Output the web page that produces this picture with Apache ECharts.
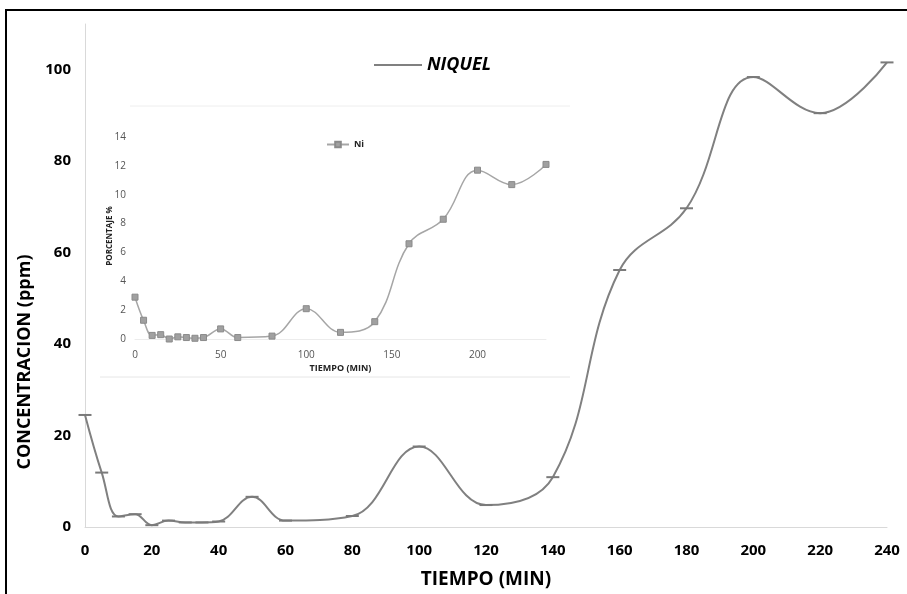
<!DOCTYPE html>
<html>
<head>
<meta charset="utf-8">
<script src="https://cdn.jsdelivr.net/npm/echarts@6/dist/echarts.min.js"></script>
<style>
html, body { margin: 0; padding: 0; background: #fff; }
#chart { width: 907px; height: 594px; }
</style>
</head>
<body>
<div id="chart"></div>
<script>
var tiempo = [0, 5, 10, 15, 20, 25, 30, 35, 40, 50, 60, 80, 100, 120, 140, 160, 180, 200, 220, 240];
var niquelPpm = [24.5, 11.9, 2.3, 2.8, 0.4, 1.4, 1.0, 1.0, 1.2, 6.6, 1.4, 2.4, 17.6, 4.8, 10.9, 56.2, 69.7, 98.4, 90.5, 101.6];
var niPorcentaje = [2.9, 1.3, 0.25, 0.3, 0, 0.15, 0.1, 0.05, 0.1, 0.7, 0.1, 0.2, 2.1, 0.46, 1.2, 6.6, 8.3, 11.7, 10.7, 12.1];

var chartDom = document.getElementById('chart');
var myChart = echarts.init(chartDom);

var mainData = tiempo.map(function (t, i) { return [t, niquelPpm[i]]; });
var insetData = tiempo.map(function (t, i) { return [t, niPorcentaje[i]]; });

var font = '"Open Sans", sans-serif';

var option = {
    backgroundColor: '#fff',
    animation: false,
    legend: [
        {
            data: [{ name: 'NIQUEL', icon: 'rect' }],
            left: 369,
            top: 51,
            itemWidth: 48,
            itemHeight: 2,
            itemGap: 6,
            itemStyle: { color: '#808080' },
            textStyle: { fontFamily: font, fontWeight: 'bold', fontStyle: 'italic', fontSize: 18, color: '#000' }
        },
        {
            data: ['Ni'],
            left: 321,
            top: 135,
            itemWidth: 22,
            itemHeight: 7,
            itemGap: 2,
            textStyle: { fontFamily: font, fontWeight: 'bold', fontSize: 9, color: '#222' }
        }
    ],
    grid: [
        { left: 85, right: 20, top: 24, bottom: 67 },
        { left: 135, right: 361, top: 137, bottom: 255 }
    ],
    xAxis: [
        {
            gridIndex: 0,
            type: 'value',
            min: 0,
            max: 240,
            interval: 20,
            name: 'TIEMPO (MIN)',
            nameLocation: 'middle',
            nameGap: 43,
            nameTextStyle: { fontFamily: font, fontWeight: 'bold', fontSize: 19, color: '#000' },
            axisLine: { lineStyle: { color: '#d9d9d9', width: 1 } },
            axisTick: { show: false },
            splitLine: { show: false },
            axisLabel: { fontFamily: font, fontWeight: 'bold', fontSize: 15, color: '#000', margin: 16 }
        },
        {
            gridIndex: 1,
            type: 'value',
            min: 0,
            max: 240,
            interval: 50,
            name: 'TIEMPO (MIN)',
            nameLocation: 'middle',
            nameGap: 25,
            nameTextStyle: { fontFamily: font, fontWeight: 'bold', fontSize: 9, color: '#222' },
            axisLine: { lineStyle: { color: '#ececec', width: 1 } },
            axisTick: { show: false },
            splitLine: { show: false },
            axisLabel: { fontFamily: font, fontSize: 10, color: '#555', margin: 11, showMaxLabel: false }
        }
    ],
    yAxis: [
        {
            gridIndex: 0,
            type: 'value',
            min: 0,
            max: 110,
            interval: 20,
            axisLine: { show: true, lineStyle: { color: '#d9d9d9', width: 1 } },
            axisTick: { show: false },
            splitLine: { show: false },
            axisLabel: { fontFamily: font, fontWeight: 'bold', fontSize: 15, color: '#000', margin: 14, showMaxLabel: false }
        },
        {
            gridIndex: 1,
            type: 'value',
            min: 0,
            max: 14,
            interval: 2,
            axisLine: { show: false },
            axisTick: { show: false },
            splitLine: { show: false },
            axisLabel: { fontFamily: font, fontSize: 10, color: '#555', margin: 9 }
        }
    ],
    graphic: [
        {
            type: 'rect',
            shape: { x: 6, y: 10, width: 910, height: 600 },
            style: { fill: null, stroke: '#000', lineWidth: 2 },
            silent: true
        },
        {
            type: 'line',
            shape: { x1: 130, y1: 106, x2: 570, y2: 106 },
            style: { stroke: '#eeeeee', lineWidth: 1 },
            silent: true
        },
        {
            type: 'line',
            shape: { x1: 100, y1: 377, x2: 570, y2: 377 },
            style: { stroke: '#e6e6e6', lineWidth: 1 },
            silent: true
        },
        {
            type: 'text',
            x: 25,
            y: 362,
            rotation: Math.PI / 2,
            style: {
                text: 'CONCENTRACION (ppm)',
                fontFamily: font,
                fontWeight: 'bold',
                fontSize: 18,
                fill: '#000',
                align: 'center',
                verticalAlign: 'middle'
            }
        },
        {
            type: 'text',
            x: 110,
            y: 236,
            rotation: Math.PI / 2,
            style: {
                text: 'PORCENTAJE %',
                fontFamily: font,
                fontWeight: 'bold',
                fontSize: 8,
                fill: '#222',
                align: 'center',
                verticalAlign: 'middle'
            }
        }
    ],
    series: [
        {
            name: 'NIQUEL',
            type: 'line',
            xAxisIndex: 0,
            yAxisIndex: 0,
            smooth: 0.4,
            data: mainData,
            symbol: 'rect',
            symbolSize: [13, 2],
            itemStyle: { color: '#7a7a7a' },
            lineStyle: { color: '#808080', width: 2 }
        },
        {
            name: 'Ni',
            type: 'line',
            xAxisIndex: 1,
            yAxisIndex: 1,
            smooth: 0.4,
            data: insetData,
            symbol: 'rect',
            symbolSize: 6,
            itemStyle: { color: '#a0a0a0', borderColor: '#8a8a8a', borderWidth: 1 },
            lineStyle: { color: '#a6a6a6', width: 1.5 }
        }
    ]
};

myChart.setOption(option);
</script>
</body>
</html>
